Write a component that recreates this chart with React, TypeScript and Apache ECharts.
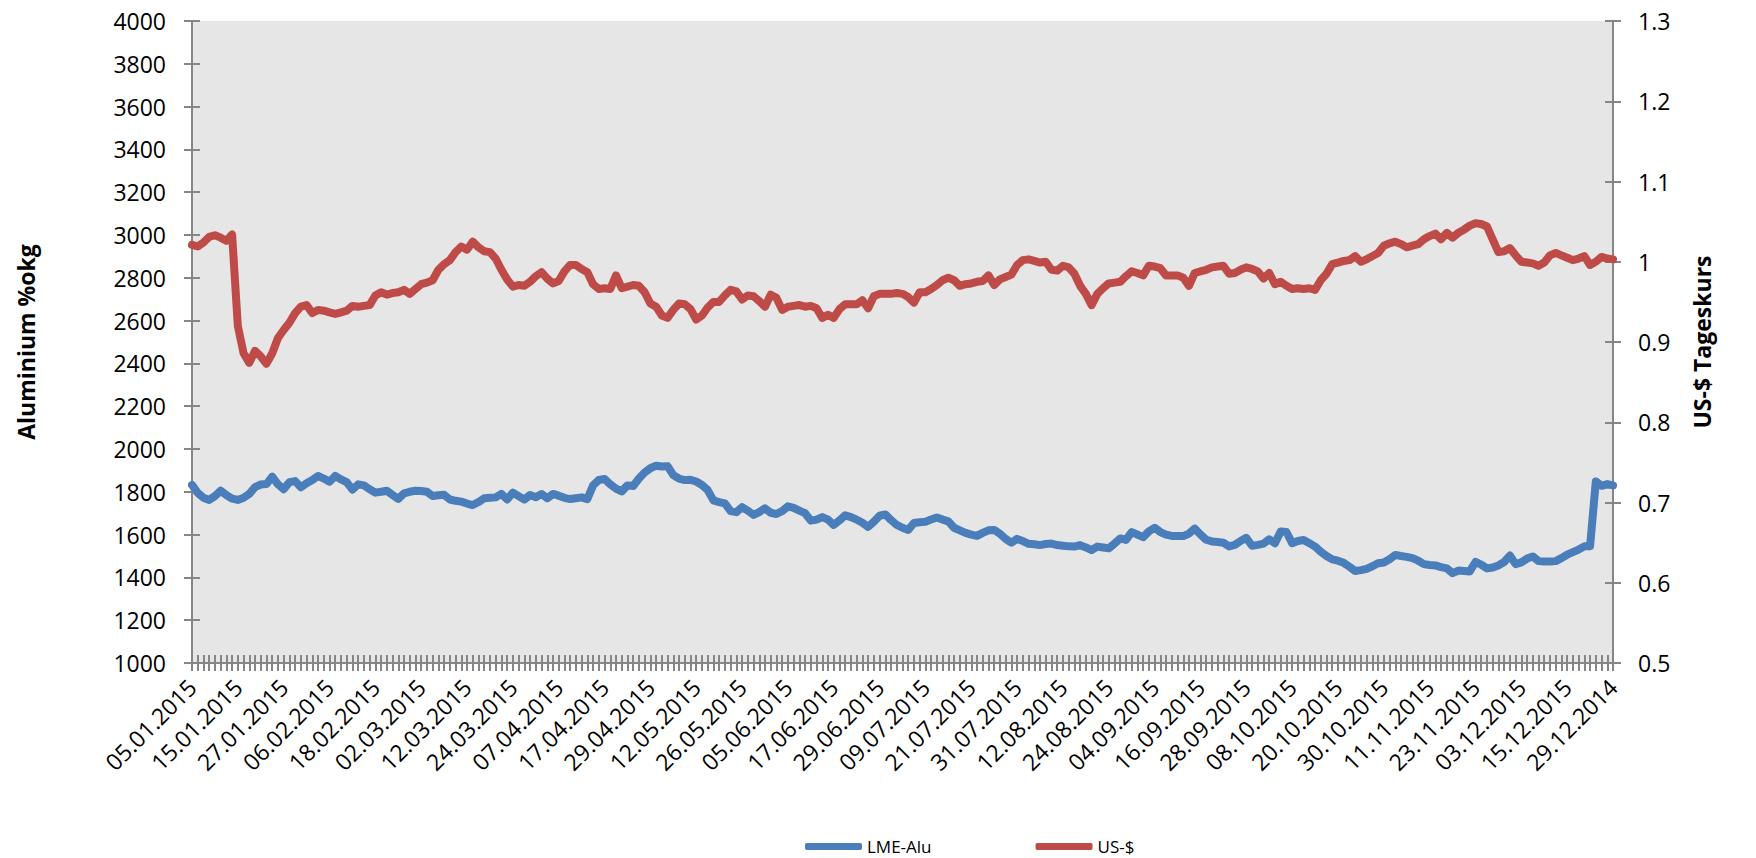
import React, { useEffect, useRef } from "react";
import * as echarts from "echarts";

const tickLabels = [
  "05.01.2015", "15.01.2015", "27.01.2015", "06.02.2015", "18.02.2015", "02.03.2015",
  "12.03.2015", "24.03.2015", "07.04.2015", "17.04.2015", "29.04.2015", "12.05.2015",
  "26.05.2015", "05.06.2015", "17.06.2015", "29.06.2015", "09.07.2015", "21.07.2015",
  "31.07.2015", "12.08.2015", "24.08.2015", "04.09.2015", "16.09.2015", "28.09.2015",
  "08.10.2015", "20.10.2015", "30.10.2015", "11.11.2015", "23.11.2015", "03.12.2015",
  "15.12.2015", "29.12.2014",
];

const aluValues = [
  1832, 1795, 1772, 1762, 1780, 1805, 1785, 1768, 1762, 1772,
  1790, 1822, 1834, 1836, 1871, 1835, 1812, 1845, 1850, 1821,
  1840, 1855, 1874, 1862, 1847, 1874, 1858, 1845, 1810, 1835,
  1830, 1812, 1796, 1800, 1805, 1785, 1767, 1793, 1800, 1805,
  1804, 1800, 1780, 1784, 1786, 1764, 1758, 1754, 1745, 1738,
  1752, 1770, 1772, 1774, 1790, 1764, 1796, 1780, 1764, 1785,
  1775, 1790, 1770, 1790, 1782, 1772, 1766, 1770, 1774, 1766,
  1830, 1855, 1860, 1835, 1815, 1802, 1830, 1827, 1862, 1890,
  1910, 1922, 1918, 1920, 1878, 1862, 1855, 1856, 1848, 1832,
  1808, 1760, 1752, 1746, 1710, 1705, 1728, 1712, 1692, 1705,
  1723, 1702, 1696, 1710, 1732, 1725, 1712, 1700, 1665, 1670,
  1682, 1670, 1645, 1666, 1690, 1682, 1670, 1655, 1636, 1660,
  1688, 1694, 1668, 1645, 1632, 1622, 1654, 1658, 1660, 1670,
  1680, 1670, 1662, 1632, 1620, 1608, 1600, 1594, 1608, 1620,
  1622, 1604, 1580, 1562, 1580, 1570, 1557, 1555, 1551, 1556,
  1558, 1551, 1548, 1545, 1544, 1551, 1540, 1528, 1544, 1540,
  1536, 1558, 1582, 1575, 1612, 1600, 1588, 1615, 1632, 1612,
  1600, 1594, 1593, 1593, 1605, 1628, 1600, 1576, 1568, 1565,
  1562, 1545, 1552, 1570, 1585, 1548, 1552, 1558, 1578, 1560,
  1614, 1612, 1560, 1570, 1575, 1560, 1544, 1520, 1500, 1484,
  1478, 1468, 1450, 1430, 1434, 1440, 1452, 1466, 1470, 1485,
  1505, 1500, 1496, 1490, 1478, 1462, 1458, 1456, 1448, 1442,
  1420, 1432, 1430, 1428, 1472, 1460, 1442, 1446, 1456, 1472,
  1502, 1462, 1470, 1488, 1498, 1476, 1474, 1474, 1476, 1490,
  1506, 1518, 1530, 1545, 1546, 1848, 1828, 1836, 1830,
];

const usdValues = [
  1.021, 1.019, 1.024, 1.031, 1.033, 1.03, 1.026, 1.034, 0.92, 0.886,
  0.874, 0.889, 0.882, 0.873, 0.886, 0.905, 0.915, 0.924, 0.936, 0.944,
  0.946, 0.936, 0.94, 0.939, 0.937, 0.935, 0.937, 0.939, 0.945, 0.944,
  0.945, 0.946, 0.958, 0.962, 0.959, 0.961, 0.962, 0.965, 0.96, 0.966,
  0.972, 0.974, 0.977, 0.99, 0.997, 1.002, 1.012, 1.019, 1.015, 1.025,
  1.018, 1.013, 1.012, 1.004, 0.99, 0.978, 0.969, 0.971, 0.97, 0.975,
  0.982, 0.987, 0.979, 0.973, 0.976, 0.988, 0.996, 0.996, 0.991, 0.987,
  0.972, 0.966, 0.967, 0.966, 0.983, 0.967, 0.969, 0.971, 0.97, 0.962,
  0.948, 0.944, 0.933, 0.93, 0.94, 0.948, 0.947, 0.941, 0.928, 0.933,
  0.943, 0.95, 0.95, 0.958, 0.965, 0.963, 0.953, 0.958, 0.957, 0.951,
  0.944, 0.959, 0.955, 0.94, 0.944, 0.945, 0.946, 0.944, 0.945, 0.942,
  0.93, 0.934, 0.93, 0.941, 0.947, 0.947, 0.947, 0.952, 0.942, 0.957,
  0.96, 0.96, 0.96, 0.961, 0.96, 0.956, 0.949, 0.962, 0.962, 0.966,
  0.971, 0.977, 0.98, 0.977, 0.97, 0.972, 0.973, 0.975, 0.976, 0.983,
  0.971, 0.978, 0.981, 0.984, 0.996, 1.002, 1.003, 1.001, 0.999, 1.0,
  0.99, 0.989, 0.995, 0.993, 0.985, 0.97, 0.96, 0.946, 0.96, 0.967,
  0.973, 0.974, 0.975, 0.982, 0.988, 0.986, 0.983, 0.995, 0.994, 0.992,
  0.983, 0.983, 0.983, 0.98, 0.97, 0.986, 0.988, 0.99, 0.993, 0.994,
  0.995, 0.985, 0.986, 0.99, 0.993, 0.991, 0.988, 0.979, 0.986, 0.972,
  0.975, 0.97, 0.966, 0.967, 0.966, 0.967, 0.965, 0.977, 0.985, 0.997,
  0.999, 1.001, 1.002, 1.007, 1.0, 1.003, 1.007, 1.011, 1.02, 1.023,
  1.025, 1.022, 1.018, 1.02, 1.022, 1.028, 1.032, 1.035, 1.028, 1.036,
  1.03, 1.036, 1.04, 1.045, 1.048, 1.047, 1.044, 1.028, 1.012, 1.013,
  1.017, 1.008, 1.0, 0.999, 0.998, 0.995, 0.999, 1.008, 1.011, 1.008,
  1.005, 1.002, 1.004, 1.007, 0.996, 1.0, 1.006, 1.004, 1.003,
];

const seriesNames = ["LME-Alu", "US-$"];
const leftAxisTitle = "Aluminium %okg";
const rightAxisTitle = "US-$ Tageskurs";

function pad(n: number) {
  return n < 10 ? "0" + n : String(n);
}

// Trading-day categories: each labelled date followed by the next 7 weekdays.
function buildCategories(labels: string[]) {
  const out: string[] = [];
  for (let k = 0; k < labels.length - 1; k++) {
    const [d, m, y] = labels[k].split(".").map(Number);
    const date = new Date(Date.UTC(y, m - 1, d));
    out.push(labels[k]);
    let added = 0;
    while (added < 7) {
      date.setUTCDate(date.getUTCDate() + 1);
      const wd = date.getUTCDay();
      if (wd === 0 || wd === 6) continue;
      out.push(pad(date.getUTCDate()) + "." + pad(date.getUTCMonth() + 1) + "." + date.getUTCFullYear());
      added++;
    }
  }
  out.push(labels[labels.length - 1]);
  return out;
}

const FONT = "'Open Sans', 'DejaVu Sans', sans-serif";
const AXIS_COLOR = "#868686";
const BLUE = "#4A7EBB";
const RED = "#BE4B48";

export default function App() {
  const ref = useRef<HTMLDivElement>(null);

  useEffect(() => {
    if (!ref.current) return;
    const chart = echarts.init(ref.current, null, { renderer: "svg" });
    const categories = buildCategories(tickLabels);

    const yCommonLeft = { type: "value", min: 1000, max: 4000, interval: 200 };
    const yCommonRight = { type: "value", min: 0.5, max: 1.3, interval: 0.1 };

    chart.setOption({
      animation: false,
      backgroundColor: "#ffffff",
      textStyle: { fontFamily: FONT },
      grid: {
        left: 192,
        right: 143,
        top: 21,
        bottom: 195,
        containLabel: false,
        show: true,
        backgroundColor: "#E6E6E6",
        borderWidth: 0,
      },
      legend: {
        data: seriesNames,
        left: 800,
        top: 833,
        itemWidth: 57,
        itemHeight: 7,
        itemGap: 104,
        icon: "roundRect",
        textStyle: { fontFamily: FONT, fontSize: 17, lineHeight: 17, color: "#000" },
      },
      xAxis: [
        {
          type: "category",
          data: categories,
          boundaryGap: false,
          position: "bottom",
          axisLine: { show: true, lineStyle: { color: AXIS_COLOR, width: 2 } },
          axisTick: { show: true, interval: 0, length: 8, inside: false, lineStyle: { color: AXIS_COLOR, width: 2 } },
          axisLabel: {
            interval: 7,
            rotate: 45,
            margin: 20,
            color: "#000",
            fontSize: 23,
            fontFamily: FONT,
          },
          splitLine: { show: false },
        },
        {
          type: "category",
          data: categories,
          boundaryGap: false,
          position: "bottom",
          axisLine: { show: false },
          axisTick: { show: true, interval: 0, length: 8, inside: true, lineStyle: { color: AXIS_COLOR, width: 2 } },
          axisLabel: { show: false },
          splitLine: { show: false },
        },
      ],
      yAxis: [
        {
          ...yCommonLeft,
          position: "left",
          name: leftAxisTitle,
          nameLocation: "middle",
          nameGap: 155,
          nameTextStyle: { fontFamily: FONT, fontSize: 23, fontWeight: "bold", color: "#000" },
          axisLine: { show: true, lineStyle: { color: AXIS_COLOR, width: 2 } },
          axisTick: { show: true, length: 8, inside: false, lineStyle: { color: AXIS_COLOR, width: 2 } },
          axisLabel: {
            margin: 26,
            color: "#000",
            fontSize: 23,
            fontFamily: FONT,
            formatter: (v: number) => String(v),
          },
          splitLine: { show: false },
        },
        {
          ...yCommonRight,
          position: "right",
          name: rightAxisTitle,
          nameLocation: "middle",
          nameGap: 77,
          nameTextStyle: { fontFamily: FONT, fontSize: 23, fontWeight: "bold", color: "#000" },
          axisLine: { show: true, lineStyle: { color: AXIS_COLOR, width: 2 } },
          axisTick: { show: true, length: 8, inside: false, lineStyle: { color: AXIS_COLOR, width: 2 } },
          axisLabel: {
            margin: 25,
            color: "#000",
            fontSize: 23,
            fontFamily: FONT,
            formatter: (v: number) => String(Math.round(v * 10) / 10),
          },
          splitLine: { show: false },
        },
        {
          ...yCommonLeft,
          position: "left",
          axisLine: { show: false },
          axisTick: { show: true, length: 8, inside: true, lineStyle: { color: AXIS_COLOR, width: 2 } },
          axisLabel: { show: false },
          splitLine: { show: false },
        },
        {
          ...yCommonRight,
          position: "right",
          axisLine: { show: false },
          axisTick: { show: true, length: 8, inside: true, lineStyle: { color: AXIS_COLOR, width: 2 } },
          axisLabel: { show: false },
          splitLine: { show: false },
        },
      ],
      series: [
        {
          name: seriesNames[0],
          type: "line",
          xAxisIndex: 0,
          yAxisIndex: 0,
          data: aluValues,
          symbol: "none",
          color: BLUE,
          lineStyle: { color: BLUE, width: 8, cap: "round", join: "round" },
          z: 5,
        },
        {
          name: seriesNames[1],
          type: "line",
          xAxisIndex: 0,
          yAxisIndex: 1,
          data: usdValues,
          symbol: "none",
          color: RED,
          lineStyle: { color: RED, width: 8, cap: "round", join: "round" },
          z: 5,
        },
      ],
    });

    return () => {
      chart.dispose();
    };
  }, []);

  return (
    <div
      ref={ref}
      style={{ position: "fixed", left: 0, top: 0, width: 1756, height: 858, background: "#fff" }}
    />
  );
}
